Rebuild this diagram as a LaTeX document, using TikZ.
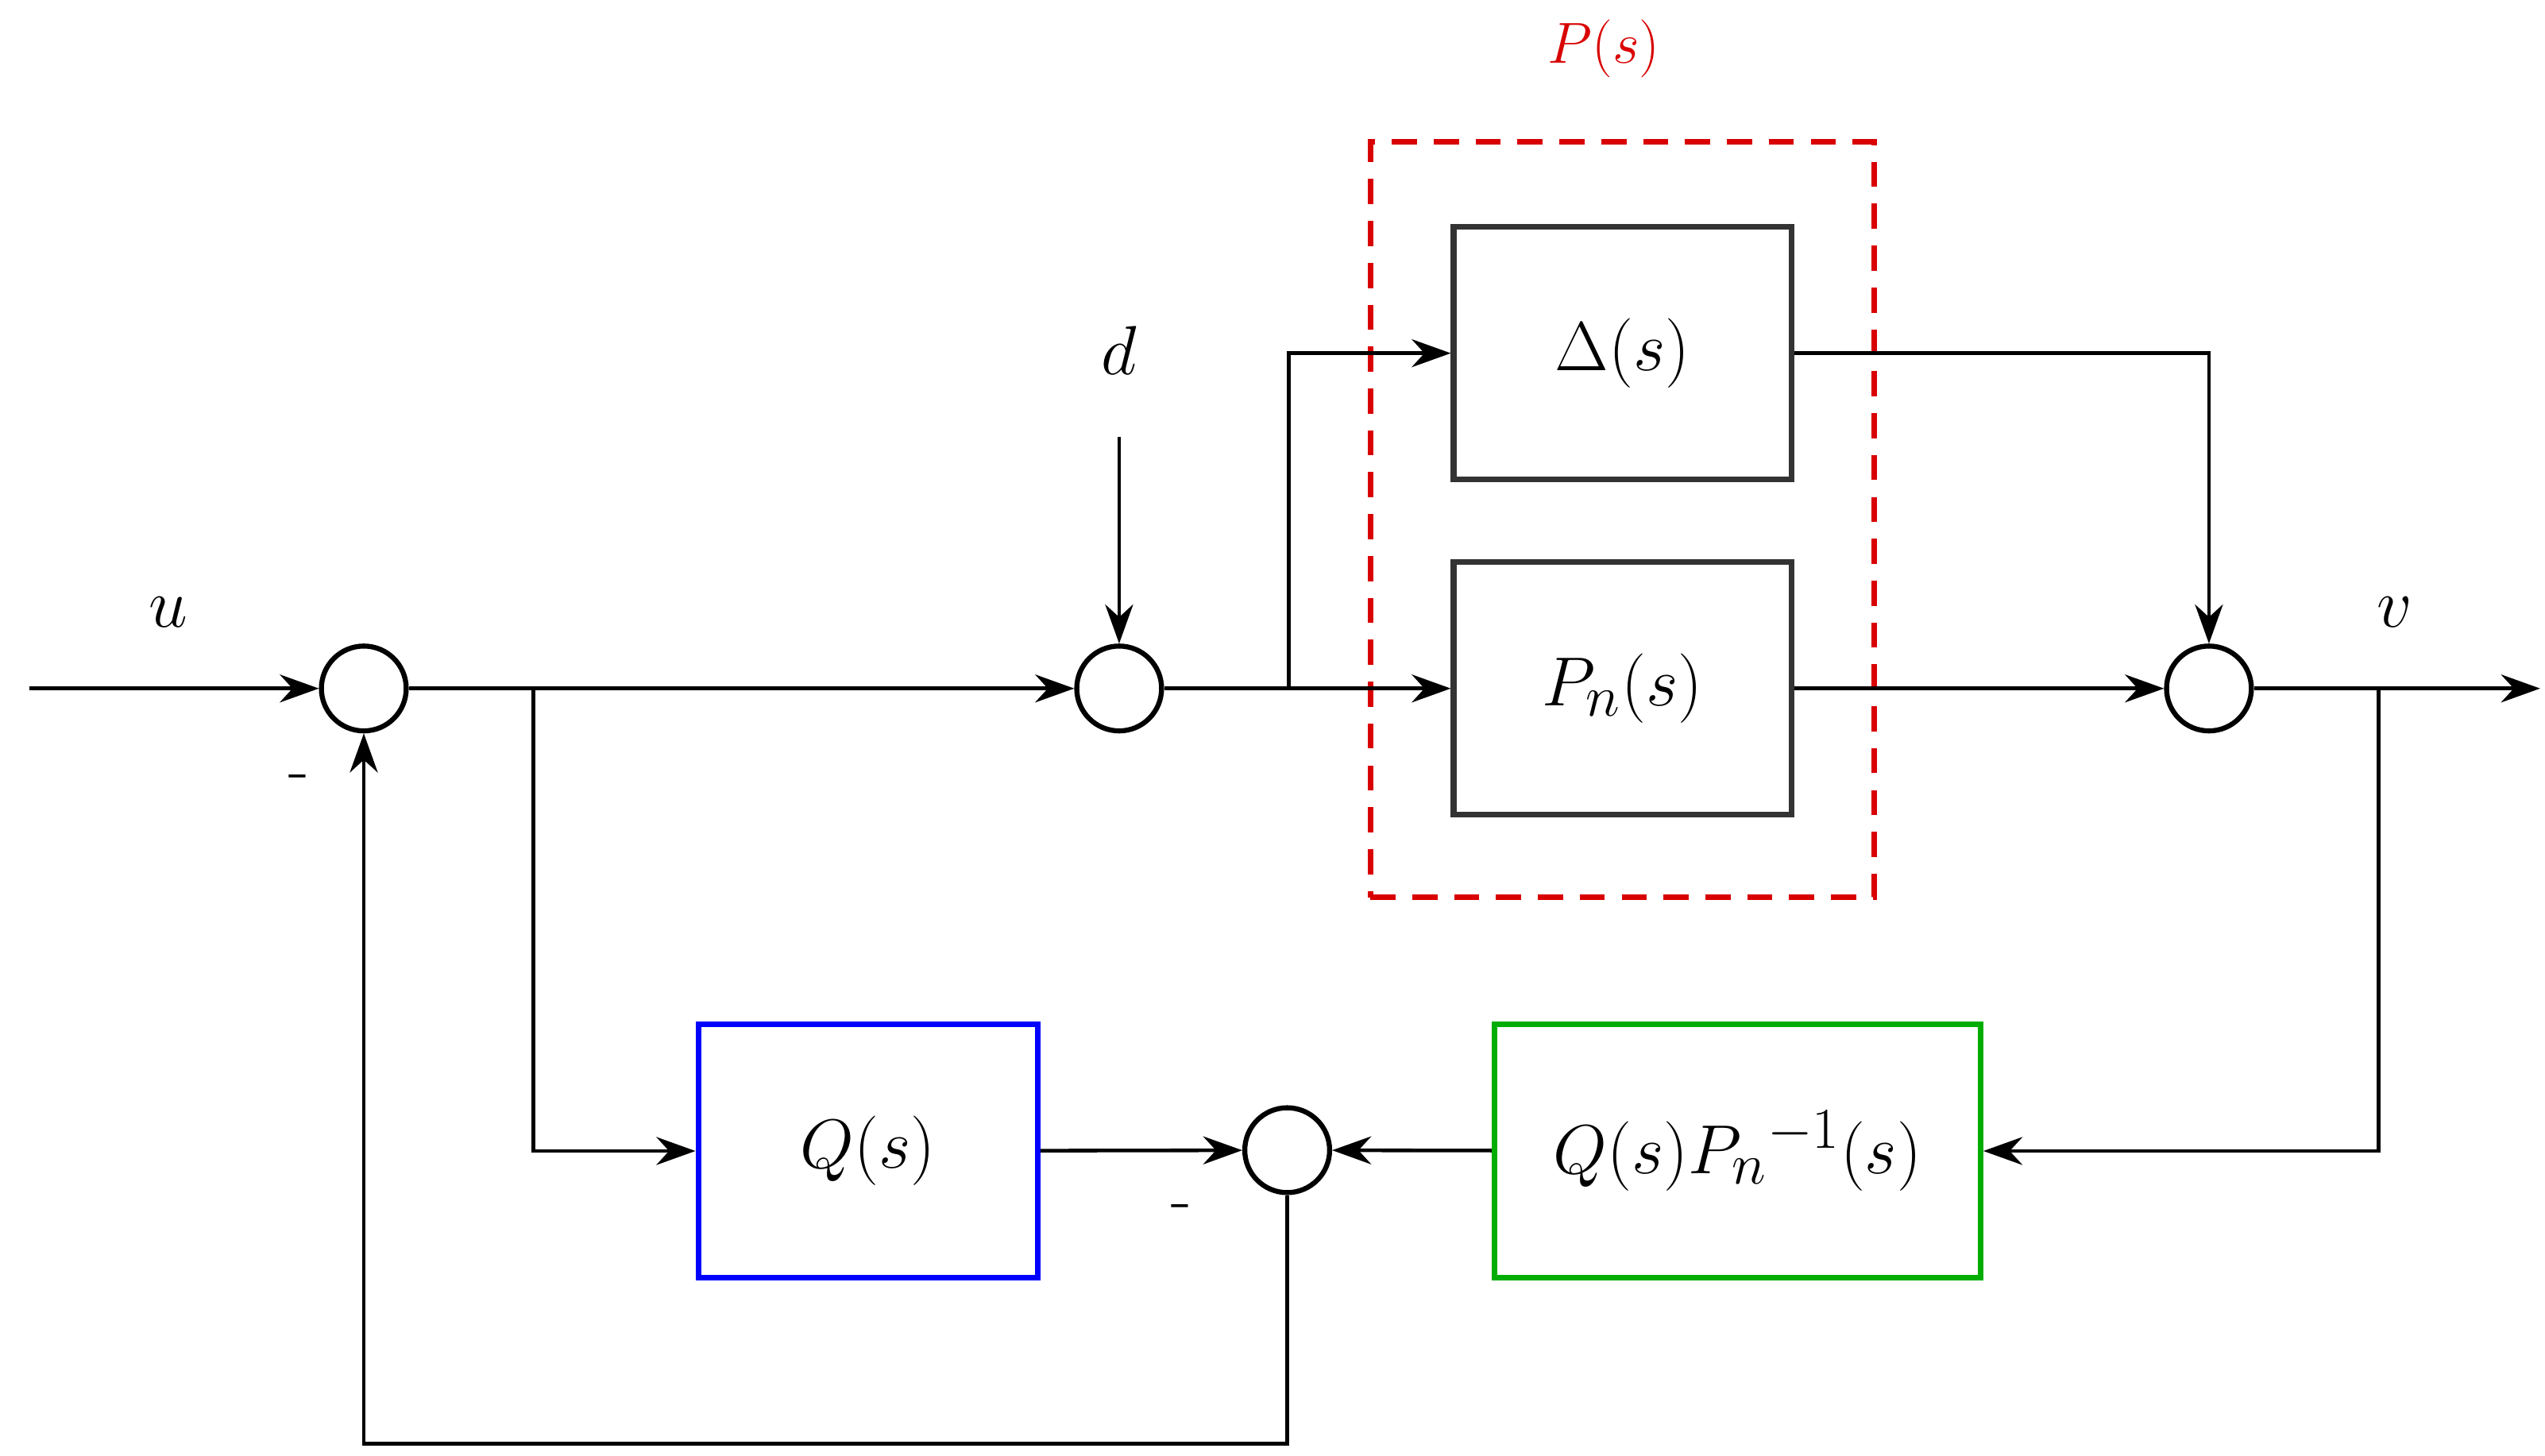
\documentclass[tikz,border=0pt]{standalone}
\usetikzlibrary{arrows.meta}
\begin{document}
\begin{tikzpicture}[x=0.02054cm,y=-0.02054cm,
  blk/.style={draw=#1,line width=2pt,minimum width=207*0.02054cm,minimum height=155*0.02054cm,inner sep=0pt,font=\fontsize{28}{34}\selectfont},
  sum/.style={draw,circle,line width=1.8pt,minimum size=52*0.02054cm,inner sep=0pt},
  con/.style={line width=1.3pt,-{Stealth[length=14pt,width=10pt]}},
  ln/.style={line width=1.3pt},
  lab/.style={font=\fontsize{28}{34}\selectfont}]
\useasboundingbox (0,0) rectangle (1560,892);
\node[sum] (s1) at (223,422) {};
\node[sum] (s2) at (686,422) {};
\node[sum] (s3) at (1354,422) {};
\node[sum] (s4) at (789,705) {};
\node[blk=black!80] (D) at (994.5,216.5) {$\Delta(s)$};
\node[blk=black!80] (Pn) at (994.5,422) {$P_n(s)$};
\node[blk=blue,minimum width=208*0.02054cm] (Q) at (532,705.5) {$Q(s)$};
\node[blk=green!60!black!80!green,minimum width=298*0.02054cm] (QP) at (1065,705.5) {$Q(s)P_n{}^{-1}(s)$};
\node[draw=red!85!black,dashed,line width=2pt,dash pattern=on 9pt off 6pt,minimum width=309*0.02054cm,minimum height=463*0.02054cm] (P) at (994.5,318.5) {};
\node[text=red!85!black,font=\fontsize{22}{26}\selectfont] (Pl) at (983,30) {$P(s)$};
\coordinate (in) at (18,422);
\coordinate (out) at (1557,422);
\coordinate (dtop) at (686,268);
\coordinate (b1) at (327,422);
\coordinate (b2) at (790,422);
\coordinate (b3) at (1458,422);
\node[lab] (u) at (103,375) {$u$};
\node[lab] (d) at (686,215) {$d$};
\node[lab] (v) at (1468,375) {$v$};
\node[font=\fontsize{24}{28}\selectfont] (m1) at (183,480) {-};
\node[font=\fontsize{24}{28}\selectfont] (m2) at (724,743) {-};
\draw[con] (in) -- (s1);
\draw[con] (s1) -- (s2);
\draw[con] (dtop) -- (s2);
\draw[con] (s2) -- (Pn);
\draw[con] (b2) |- (D);
\draw[con] (D) -| (s3);
\draw[con] (Pn) -- (s3);
\draw[con] (s3) -- (out);
\draw[con] (b3) |- (QP);
\draw[con] (QP) -- (s4);
\draw[con] (b1) |- (Q);
\draw[con] (Q) -- (s4);
\draw[con] (s4) -- (789,885) -| (s1);
\end{tikzpicture}
\end{document}
